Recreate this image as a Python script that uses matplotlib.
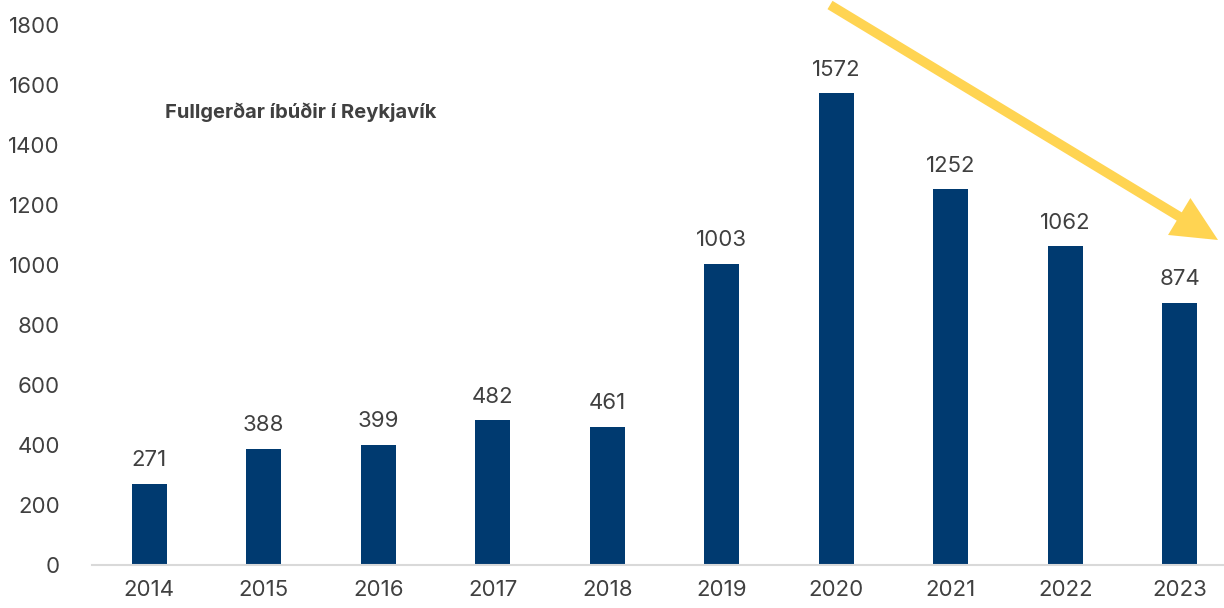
import matplotlib
matplotlib.use("Agg")
import matplotlib.pyplot as plt

years = ["2014", "2015", "2016", "2017", "2018", "2019", "2020", "2021", "2022", "2023"]
values = [271, 388, 399, 482, 461, 1003, 1572, 1252, 1062, 874]
yticks = [0, 200, 400, 600, 800, 1000, 1200, 1400, 1600, 1800]
title = "Fullgerðar íbúðir í Reykjavík"

plt.rcParams['font.family'] = ['Inter', 'DejaVu Sans']
text_color = "#404040"

fig = plt.figure(figsize=(12.24, 6.08), dpi=100)
ax = fig.add_axes([92/1224, 43/608, (1237-92)/1224, 540/608])
x = list(range(len(years)))
ax.bar(x, values, width=0.31, color="#003A70", zorder=2)
ax.set_xlim(-0.5, len(years) - 0.5)
ax.set_ylim(0, 1800)
ax.set_yticks(yticks)
ax.set_yticklabels([str(t) for t in yticks])
ax.set_xticks(x)
ax.set_xticklabels(years)
ax.tick_params(axis='both', length=0, labelsize=16, labelcolor=text_color)
ax.tick_params(axis='y', pad=23)
ax.tick_params(axis='x', pad=11)
for s in ["top", "right", "left"]:
    ax.spines[s].set_visible(False)
ax.spines["bottom"].set_color("#d9d9d9")
ax.spines["bottom"].set_linewidth(1.5)

for xi, v in zip(x, values):
    ax.annotate(str(v), (xi, v), xytext=(0, 10), textcoords="offset points",
                ha="center", va="bottom", fontsize=16, color=text_color)

fig.text(165/1224, 1 - 112/608, title, fontsize=14.5, fontweight="bold",
         color=text_color, ha="left", va="center")

ax.annotate("", xy=(1218/1224, 1 - 240/608), xycoords="figure fraction",
            xytext=(830/1224, 1 - 5/608), textcoords="figure fraction",
            arrowprops=dict(arrowstyle="-|>,head_length=2.1,head_width=1.0",
                            color="#FFD452", lw=7, shrinkA=0, shrinkB=0,
                            joinstyle="miter", capstyle="butt"),
            annotation_clip=False)

fig.savefig("out.png", dpi=100)
